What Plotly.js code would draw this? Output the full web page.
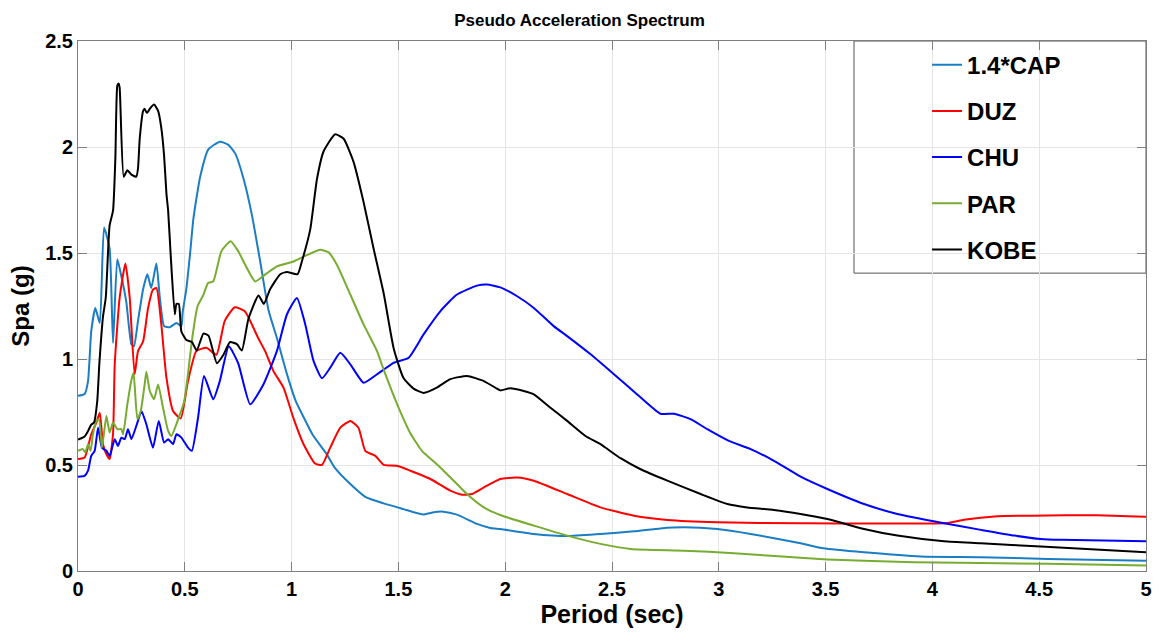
<!DOCTYPE html>
<html>
<head>
<meta charset="utf-8">
<script src="https://cdn.plot.ly/plotly-3.0.1.min.js"></script>
<style>html,body{margin:0;padding:0;background:#fff;}#chart{width:1159px;height:641px;}</style>
</head>
<body>
<div id="chart"></div>
<script>
// ---- Data ----
const seriesNames = ["1.4*CAP", "DUZ", "CHU", "PAR", "KOBE"];

const capX = [0,0.031,0.047,0.062,0.081,0.102,0.122,0.148,0.164,0.184,0.203,0.226,0.25,0.262,0.281,0.305,0.325,0.343,0.367,0.383,0.403,0.43,0.461,0.484,0.49,0.507,0.525,0.54,0.572,0.611,0.665,0.704,0.736,0.775,0.814,0.853,0.892,0.931,0.978,1.02,1.064,1.10,1.165,1.2,1.275,1.345,1.431,1.524,1.618,1.65,1.71,1.774,1.868,1.93,1.977,2.134,2.29,2.446,2.603,2.727,2.837,2.993,3.149,3.383,3.49,3.68,3.946,4.227,4.54,5.0];
const capY = [0.826,0.835,0.896,1.13,1.24,1.17,1.62,1.52,1.076,1.47,1.39,1.27,1.07,1.06,1.18,1.33,1.40,1.335,1.45,1.29,1.155,1.15,1.17,1.155,1.22,1.33,1.50,1.66,1.86,1.99,2.025,2.01,1.97,1.85,1.68,1.46,1.23,1.10,0.93,0.80,0.71,0.64,0.55,0.49,0.41,0.35,0.319,0.292,0.266,0.274,0.28,0.266,0.222,0.203,0.198,0.175,0.165,0.175,0.187,0.201,0.206,0.198,0.175,0.131,0.107,0.088,0.068,0.065,0.057,0.048];

const duzX = [0,0.031,0.062,0.086,0.102,0.117,0.133,0.148,0.164,0.172,0.195,0.222,0.242,0.265,0.281,0.305,0.328,0.351,0.367,0.39,0.414,0.445,0.481,0.515,0.554,0.601,0.648,0.687,0.734,0.781,0.843,0.876,0.915,0.962,1.009,1.056,1.11,1.142,1.181,1.228,1.275,1.313,1.345,1.392,1.431,1.493,1.556,1.65,1.743,1.798,1.845,1.9,1.977,2.056,2.134,2.29,2.446,2.603,2.759,2.993,3.383,4.07,4.148,4.305,4.461,4.774,5.0];
const duzY = [0.528,0.535,0.645,0.70,0.747,0.598,0.55,0.528,0.647,0.975,1.29,1.45,1.29,0.928,1.037,1.084,1.24,1.327,1.335,1.163,0.912,0.755,0.72,0.896,1.037,1.053,1.02,1.18,1.244,1.225,1.10,1.037,0.943,0.865,0.72,0.598,0.507,0.50,0.582,0.676,0.708,0.676,0.567,0.543,0.501,0.496,0.473,0.434,0.379,0.36,0.363,0.394,0.434,0.441,0.426,0.363,0.30,0.261,0.241,0.23,0.225,0.227,0.242,0.258,0.261,0.263,0.256];

const chuX = [0,0.031,0.047,0.062,0.078,0.094,0.112,0.133,0.148,0.172,0.187,0.203,0.219,0.234,0.25,0.278,0.297,0.32,0.351,0.378,0.403,0.422,0.445,0.461,0.484,0.515,0.533,0.562,0.59,0.633,0.664,0.706,0.75,0.806,0.868,0.931,0.978,1.025,1.064,1.103,1.142,1.181,1.228,1.275,1.337,1.4,1.478,1.548,1.618,1.696,1.774,1.868,1.915,1.977,2.056,2.134,2.227,2.29,2.4,2.509,2.618,2.727,2.79,2.868,2.946,3.047,3.149,3.258,3.383,3.508,3.68,3.836,4.055,4.227,4.383,4.508,4.602,5.0];
const chuY = [0.445,0.449,0.473,0.543,0.567,0.676,0.582,0.567,0.543,0.622,0.59,0.629,0.622,0.669,0.622,0.70,0.755,0.692,0.582,0.708,0.606,0.622,0.598,0.645,0.629,0.582,0.567,0.723,0.92,0.81,0.896,1.06,0.98,0.786,0.88,1.037,1.21,1.288,1.163,0.99,0.909,0.959,1.029,0.975,0.888,0.928,0.982,1.006,1.116,1.225,1.304,1.346,1.351,1.338,1.296,1.241,1.155,1.108,1.022,0.928,0.833,0.742,0.742,0.716,0.669,0.614,0.575,0.52,0.445,0.387,0.316,0.269,0.225,0.194,0.167,0.151,0.147,0.14];

const parX = [0,0.023,0.034,0.047,0.059,0.07,0.086,0.098,0.112,0.133,0.148,0.164,0.184,0.203,0.211,0.231,0.25,0.26,0.278,0.294,0.312,0.32,0.336,0.356,0.375,0.398,0.422,0.437,0.469,0.497,0.515,0.535,0.56,0.586,0.609,0.633,0.672,0.715,0.751,0.79,0.829,0.876,0.931,1.009,1.071,1.134,1.173,1.212,1.275,1.337,1.4,1.431,1.493,1.556,1.61,1.68,1.759,1.821,1.9,1.977,2.134,2.29,2.446,2.587,2.837,3.071,3.383,3.508,3.914,4.54,5.0];
const parY = [0.567,0.575,0.559,0.598,0.567,0.645,0.708,0.716,0.582,0.731,0.653,0.70,0.669,0.669,0.645,0.786,0.90,0.935,0.716,0.755,0.88,0.94,0.849,0.81,0.88,0.77,0.661,0.637,0.716,0.80,0.93,1.10,1.25,1.30,1.358,1.366,1.51,1.556,1.507,1.43,1.366,1.398,1.437,1.46,1.49,1.515,1.503,1.445,1.304,1.163,1.037,0.95,0.79,0.65,0.567,0.504,0.426,0.363,0.30,0.264,0.214,0.167,0.128,0.104,0.096,0.084,0.062,0.054,0.041,0.034,0.026];

const kobeX = [0,0.031,0.047,0.062,0.075,0.09,0.10,0.11,0.117,0.13,0.148,0.164,0.175,0.184,0.19,0.195,0.214,0.231,0.25,0.273,0.281,0.289,0.305,0.312,0.323,0.336,0.356,0.375,0.39,0.403,0.414,0.422,0.434,0.453,0.461,0.472,0.484,0.507,0.533,0.556,0.587,0.611,0.65,0.681,0.712,0.744,0.767,0.798,0.845,0.87,0.90,0.947,0.978,1.028,1.048,1.087,1.119,1.15,1.204,1.243,1.29,1.337,1.384,1.431,1.478,1.524,1.571,1.618,1.68,1.743,1.821,1.9,1.962,1.977,2.024,2.087,2.134,2.212,2.29,2.376,2.446,2.54,2.634,2.759,2.915,3.04,3.133,3.258,3.383,3.508,3.68,3.836,4.055,4.227,4.508,5.0];
const kobeY = [0.62,0.635,0.66,0.69,0.70,0.80,0.98,1.12,1.20,1.29,1.63,1.70,1.95,2.29,2.30,2.28,1.86,1.89,1.87,1.86,1.90,2.04,2.17,2.18,2.16,2.18,2.20,2.17,2.09,1.96,1.78,1.70,1.49,1.21,1.26,1.26,1.13,1.09,1.08,1.04,1.12,1.11,0.98,1.02,1.08,1.07,1.04,1.19,1.30,1.26,1.33,1.40,1.41,1.40,1.46,1.61,1.85,1.98,2.06,2.04,1.93,1.74,1.52,1.31,1.05,0.91,0.86,0.84,0.865,0.905,0.92,0.896,0.86,0.852,0.862,0.849,0.833,0.77,0.708,0.637,0.598,0.532,0.48,0.426,0.363,0.316,0.30,0.288,0.269,0.245,0.198,0.167,0.14,0.131,0.115,0.088];

const xTicks = [0,0.5,1,1.5,2,2.5,3,3.5,4,4.5,5];
const xTickLabels = ["0","0.5","1","1.5","2","2.5","3","3.5","4","4.5","5"];
const yTicks = [0,0.5,1,1.5,2,2.5];
const yTickLabels = ["0","0.5","1","1.5","2","2.5"];

// ---- Styling ----
const colors = ["#1b7dc4", "#ff0000", "#0000ff", "#77ac30", "#000000"];
const xs = [capX, duzX, chuX, parX, kobeX];
const ys = [capY, duzY, chuY, parY, kobeY];
const FONT = "Liberation Sans, Arial, Helvetica, sans-serif";

const traces = seriesNames.map((name, i) => ({
  x: xs[i], y: ys[i], name: name, type: "scatter", mode: "lines",
  legendgroup: "g" + i,
  line: {color: colors[i], width: 2, shape: "spline", smoothing: 0.5}
}));

const layout = {
  width: 1159, height: 641,
  margin: {l: 78, r: 13, t: 41, b: 70},
  paper_bgcolor: "#ffffff", plot_bgcolor: "#ffffff",
  font: {family: FONT, color: "#000"},
  title: {text: "Pseudo Acceleration Spectrum", x: 0.5, xanchor: "center", y: 0.968, yanchor: "middle",
          font: {family: FONT, size: 17, weight: "bold", color: "#000"}},
  xaxis: {
    range: [0, 5], tickvals: xTicks, ticktext: xTickLabels,
    ticks: "inside", ticklen: 9, tickcolor: "#7f7f7f",
    showline: true, linecolor: "#7f7f7f", linewidth: 1, mirror: "ticks",
    showgrid: true, gridcolor: "#e5e5e5", zeroline: false,
    tickfont: {family: FONT, size: 20, weight: "bold", color: "#000"},
    title: {text: "Period (sec)", standoff: 6, font: {family: FONT, size: 25, weight: "bold", color: "#000"}}
  },
  yaxis: {
    range: [0, 2.5], tickvals: yTicks, ticktext: yTickLabels,
    ticks: "inside", ticklen: 9, tickcolor: "#7f7f7f",
    showline: true, linecolor: "#7f7f7f", linewidth: 1, mirror: "ticks",
    showgrid: true, gridcolor: "#e5e5e5", zeroline: false,
    tickfont: {family: FONT, size: 20, weight: "bold", color: "#000"},
    title: {text: "Spa (g)", standoff: 8, font: {family: FONT, size: 24, weight: "bold", color: "#000"}}
  },
  showlegend: true,
  legend: {
    x: 0.795, xanchor: "left", y: 0.997, yanchor: "top",
    bgcolor: "rgba(0,0,0,0)", borderwidth: 0,
    traceorder: "grouped", tracegroupgap: 12,
    font: {family: FONT, size: 24, weight: "bold", color: "#000"}
  },
  shapes: [{
    type: "rect", xref: "paper", yref: "paper",
    x0: 0.7266, x1: 1.0, y0: 0.562, y1: 1.0,
    line: {color: "#555555", width: 1}, fillcolor: "#ffffff", layer: "below"
  }]
};

Plotly.newPlot("chart", traces, layout, {displayModeBar: false, staticPlot: true});
</script>
</body>
</html>
